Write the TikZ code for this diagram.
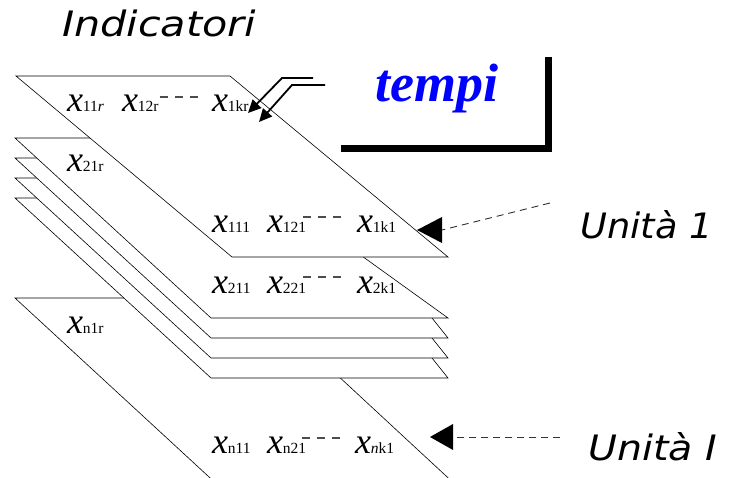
\documentclass[tikz,border=0pt]{standalone}
\usepackage{fontspec}
\setmainfont{Liberation Serif}
\newfontfamily\comicfont{DejaVu Sans}
\usetikzlibrary{arrows.meta}
\newcommand\xvar[1]{{\fontsize{36}{36}\selectfont\itshape x}{\fontsize{15.5}{15.5}\selectfont #1}}
\tikzset{
  sheetbox/.style={draw=black, fill=white, line width=0.6pt, line join=miter},
  varlabel/.style={anchor=base west, inner sep=0pt, outer sep=0pt},
  dots/.style={draw=black!70, line width=1.1pt, dash pattern=on 8pt off 7pt},
  comiclabel/.style={anchor=base west, inner sep=0pt, font=\comicfont\itshape\fontsize{35}{35}\selectfont},
  dasharrow/.style={draw=black!80, line width=0.9pt, dash pattern=on 7pt off 5pt},
  headfill/.style={fill=black},
  dblarrow/.style={draw=black, line width=1.8pt, line join=miter, -{Triangle[length=13pt,width=12pt]}},
  thickL/.style={draw=black, line width=7pt, line join=miter}
}
\begin{document}
\begin{tikzpicture}[x=1pt,y=-1pt]
\useasboundingbox (0,0) rectangle (730,478);
\begin{scope}
\clip (0,0) rectangle (730,478);
% bottom sheet (unit I)
\path[sheetbox] (15,298) -- (254,298) -- (472,500) -- (234,500) -- cycle;
% middle sheets
\foreach \d in {40,20,0}{
  \path[sheetbox] (15,158+\d) -- (200,158+\d) -- (432,318+\d) -- (448,338+\d) -- (211,338+\d) -- cycle;
}
% sheet 2
\path[sheetbox] (15,138) -- (198,138) -- (448,318) -- (211,318) -- cycle;
% sheet 1
\path[sheetbox] (16,76) -- (230,76) -- (448,257) -- (232,257) -- cycle;
\end{scope}

% labels on sheets
\node[varlabel] (x11r) at (67,112) {\xvar{11\textit{r}}};
\node[varlabel] (x12r) at (122,112) {\xvar{12r}};
\node[varlabel] (x1kr) at (212,112) {\xvar{1kr}};
\node[varlabel] (x21r) at (67,172) {\xvar{21r}};
\node[varlabel] (x111) at (212,233) {\xvar{111}};
\node[varlabel] (x121) at (267,233) {\xvar{121}};
\node[varlabel] (x1k1) at (357,233) {\xvar{1k1}};
\node[varlabel] (x211) at (212,293) {\xvar{211}};
\node[varlabel] (x221) at (267,293) {\xvar{221}};
\node[varlabel] (x2k1) at (357,293) {\xvar{2k1}};
\node[varlabel] (xn1r) at (67,333) {\xvar{n1r}};
\node[varlabel] (xn11) at (212,453) {\xvar{n11}};
\node[varlabel] (xn21) at (267,453) {\xvar{n21}};
\node[varlabel] (xnk1) at (355,453) {\xvar{\textit{n}k1}};

% dashes between terms
\draw[dots] (160,97) -- (198,97);
\draw[dots] (303,217) -- (341,217);
\draw[dots] (303,277) -- (341,277);
\draw[dots] (302,438) -- (340,438);

% titles
\node[comiclabel] (ind) at (62,37) {\scalebox{1.18}[1]{Indicatori}};
\node[anchor=base west, inner sep=0pt, text=blue, font=\bfseries\itshape\fontsize{54}{54}\selectfont] (tempi) at (375,102) {tempi};
\node[comiclabel] (u1) at (580,238) {\scalebox{1.05}[1]{Unità 1}};
\node[comiclabel] (uI) at (588,460) {\scalebox{1.13}[1]{Unità I}};

% thick L frame
\draw[thickL] (548.5,57) -- (548.5,148.5) -- (341,148.5);

% double arrow
\draw[dblarrow] (313,78) -- (282,78) -- (248,113);
\draw[dblarrow] (325,85) -- (292,85) -- (259,122);

% dashed arrows from units
\coordinate (u1s) at (550,203);
\coordinate (u1b) at (442,230);
\coordinate (u1t) at (417,230);
\draw[dasharrow] (u1s) -- (u1b);
\fill[headfill] (442,217) -- (u1t) -- (442,243) -- cycle;

\coordinate (uIs) at (560,437);
\coordinate (uIb) at (453,437);
\coordinate (uIt) at (430,437);
\draw[dasharrow] (uIs) -- (uIb);
\fill[headfill] (453,424) -- (uIt) -- (453,450) -- cycle;
\end{tikzpicture}
\end{document}
